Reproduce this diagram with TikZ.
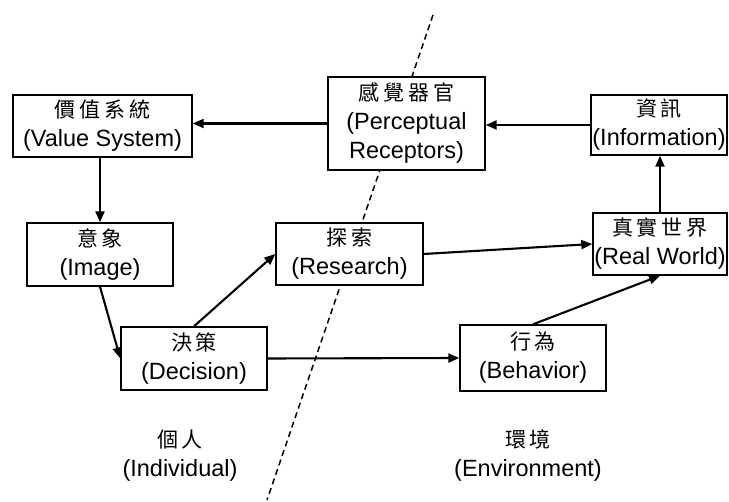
\documentclass[tikz,border=0pt]{standalone}
\usepackage{fontspec}
\setmainfont{Liberation Sans}
\newfontfamily\cjk{Noto Sans CJK TC}
\usetikzlibrary{arrows.meta}
\newcommand\cjgap{\hspace{4pt}}
\newcommand\cjline[1]{{\fontsize{21}{29}\selectfont\cjk #1}}
\tikzset{
  box/.style={draw, line width=1.4pt, inner sep=0pt, align=center, fill=white,
    font=\fontsize{23.5}{29}\selectfont},
  arr/.style={line width=2.1pt, -{Triangle[length=11pt,width=9pt]}},
  lbl/.style={inner sep=0pt, align=center, font=\fontsize{23.5}{29}\selectfont},
}
\begin{document}
\begin{tikzpicture}[x=1pt,y=-1pt]
\useasboundingbox (0,0) rectangle (729,502);
% dashed boundary
\coordinate (dtop) at (433,15);
\coordinate (dbot) at (267,500);
\draw[line width=1.5pt, dash pattern=on 6pt off 4pt] (dtop) -- (dbot);
% boxes
\node[box, minimum width=179pt, minimum height=62pt] (val) at (102.5,126)
  {\cjline{價\cjgap 值\cjgap 系\cjgap 統}\\(Value System)};
\node[box, minimum width=157pt, minimum height=93pt] (per) at (406.5,123.5)
  {\cjline{感\cjgap 覺\cjgap 器\cjgap 官}\\(Perceptual\\Receptors)};
\node[box, minimum width=136pt, minimum height=60pt] (inf) at (659,125)
  {\cjline{資\cjgap 訊}\\(Information)};
\node[box, minimum width=134pt, minimum height=62pt] (rw) at (660,244)
  {\cjline{真\cjgap 實\cjgap 世\cjgap 界}\\(Real World)};
\node[box, minimum width=146pt, minimum height=63pt] (img) at (100,254.5)
  {\cjline{意\cjgap 象}\\(Image)};
\node[box, minimum width=147pt, minimum height=62pt] (res) at (349.5,254)
  {\cjline{探\cjgap 索}\\(Research)};
\node[box, minimum width=146pt, minimum height=63pt] (dec) at (194,358.5)
  {\cjline{決\cjgap 策}\\(Decision)};
\node[box, minimum width=146pt, minimum height=66pt] (beh) at (533,358)
  {\cjline{行\cjgap 為}\\(Behavior)};
% labels
\node[lbl] (ind) at (180,456) {\cjline{個\cjgap 人}\\(Individual)};
\node[lbl] (env) at (528,456) {\cjline{環\cjgap 境}\\(Environment)};
% arrows
\draw[arr] (per.west) -- (per.west -| val.east);
\draw[arr] (inf.west) -- (inf.west -| per.east);
\draw[arr] (img.north |- val.south) -- (img.north);
\draw[arr] (img.south) -- (dec.west);
\draw[arr] (dec.north) -- (res.west);
\draw[arr] (res.east) -- (rw.west);
\draw[arr] (dec.east) -- (beh.west);
\draw[arr] (beh.north) -- (rw.south);
\draw[arr] (rw.north) -- (rw.north |- inf.south);
\end{tikzpicture}
\end{document}
